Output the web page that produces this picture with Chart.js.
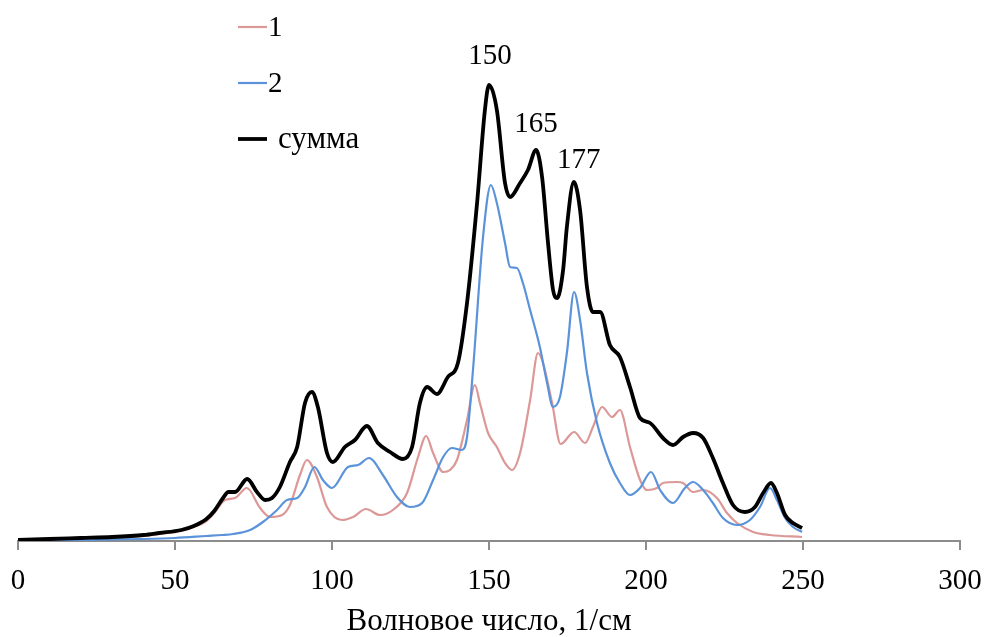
<!DOCTYPE html>
<html lang="ru">
<head>
<meta charset="utf-8">
<title>Спектр</title>
<script src="https://cdn.jsdelivr.net/npm/chart.js@4.4.1/dist/chart.umd.min.js"></script>
<style>
  html, body { margin: 0; padding: 0; background: #fff; }
  canvas { display: block; }
</style>
</head>
<body>
<canvas id="spectrum" width="986" height="637"></canvas>
<script>
// Спектр: две компоненты и их сумма (интенсивность в отн. ед.)

const waveNum1 = [0, 20, 30, 40, 45, 52, 56, 60, 62.5, 65.9, 69.1, 72.9, 77.1, 80.3, 84.1, 86.6, 89.8, 92, 95.2, 98.4,
  103.2, 106.7, 110.8, 115.3, 119.4, 123.9, 127.4, 130, 132.2, 135.4, 137.6, 139.8, 143, 145.5, 147.1, 149.7, 152.5,
  155.1, 157.3, 159.9, 163.1, 165.6, 167.2, 170.1, 172.8, 177.1, 180.6, 183.1, 186, 189.2, 191.7, 194.9, 198.1, 200.3,
  203.5, 205.4, 209.9, 211.8, 215, 218.2, 222.6, 225.8, 229, 234.1, 239.5, 249.7];
const intensity1 = [1, 2, 3, 5, 7, 10, 14, 20, 28, 41, 43, 53, 33, 24, 26, 36, 66, 81, 64, 34,
  21, 24, 32, 26, 31, 48, 84, 105, 88, 69, 71, 81, 121, 156, 138, 108, 94,
  78, 71, 88, 141, 188, 178, 138, 97, 109, 98, 114, 134, 124, 131, 94, 61, 51,
  53, 58, 59, 58, 49, 51, 43, 28, 18, 9, 6, 4];

const waveNum2 = [0, 20, 40, 50, 60, 65, 68.5, 73.9, 78, 82.5, 85.7, 88.9, 91.4, 94.4, 97.1, 100, 105.1, 108.3, 111.8,
  116.2, 120.7, 124.8, 128.7, 132.2, 135.4, 138.2, 141.4, 143, 144.9, 148.1, 150.6, 152.5, 155.1, 156.7, 158.9, 160.8,
  163.1, 166.2, 168.5, 170.4, 172.6, 174.8, 177.1, 179, 181.2, 184.4, 188.5, 191.7, 194.9, 198.1, 201.6, 204.5, 208.6,
  212.4, 215, 218.2, 221.3, 224.5, 229, 233.1, 236.3, 239.5, 241.7, 244.3, 246.8, 249.7];
const intensity2 = [0, 1, 2, 3, 5, 6, 7, 11, 19, 31, 41, 43, 54, 74, 61, 53, 74, 76, 83,
  66, 44, 34, 38, 61, 84, 93, 91, 104, 171, 304, 356, 338, 298, 274, 273, 258,
  231, 194, 158, 134, 144, 188, 249, 221, 168, 118, 78, 58, 46, 53, 69, 51, 38,
  53, 59, 51, 38, 23, 16, 21, 34, 53, 41, 23, 14, 9];

const waveNumSum = [0, 10, 20, 30, 40, 45, 52, 56, 60, 62.5, 65.3, 67, 69.1, 73, 76.1, 78.7, 80.9, 83.4, 86.6, 88.9,
  91.4, 93.6, 95.5, 98.4, 100.3, 104.1, 107.3, 111.1, 114.6, 118.5, 122.6, 125.5, 128, 130.3, 133.4, 136.9, 140.1,
  143, 146.2, 148.7, 150, 152.5, 155.1, 156.7, 159.9, 162.4, 165, 166.9, 168.8, 170.4, 171.7, 173.6, 174.8, 177, 179,
  181.2, 183.1, 185.4, 188.5, 191.7, 194.9, 198.1, 201.3, 205.4, 208.6, 211.8, 215, 218.2, 221.3, 224.5, 227.7, 231.5,
  234.7, 237.3, 239.8, 241.7, 244.3, 246.8, 249.7];
const intensitySum = [1, 2, 3, 4, 6, 8, 11, 15, 22, 30, 43, 49, 49, 62, 49, 41, 43, 54, 79, 94,
  138, 149, 134, 88, 79, 94, 101, 115, 98, 89, 82, 94, 138, 154, 147, 164, 178,
  238, 338, 431, 456, 431, 358, 344, 358, 371, 391, 364, 298, 251, 243, 271, 314, 359, 331,
  254, 229, 229, 196, 184, 154, 123, 118, 103, 96, 104, 108, 103, 83, 58, 36, 29,
  34, 48, 58, 48, 26, 18, 13];

const seriesNames = ['1', '2', 'сумма'];
const peakLabels = [150, 165, 177];
const xTicks = [0, 50, 100, 150, 200, 250, 300];

const FONT = '"Liberation Serif", "Times New Roman", serif';
const AXIS_GREY = '#8c8c8c';

const toPoints = (xs, ys) => xs.map((x, i) => ({ x, y: ys[i] }));

// legend in the upper left: short line + label, one per row
const sideLegend = {
  id: 'sideLegend',
  afterDraw(chart, args, opts) {
    const ctx = chart.ctx;
    ctx.save();
    ctx.textBaseline = 'middle';
    ctx.textAlign = 'left';
    chart.data.datasets.forEach((ds, i) => {
      const y = opts.y + i * opts.rowGap;
      ctx.strokeStyle = ds.borderColor;
      ctx.lineWidth = ds.borderWidth;
      ctx.beginPath();
      ctx.moveTo(opts.x, y);
      ctx.lineTo(opts.x + opts.lineLen, y);
      ctx.stroke();
      ctx.font = `${opts.sizes[i]}px ${FONT}`;
      ctx.fillStyle = '#000';
      ctx.fillText(ds.label, opts.x + opts.lineLen + opts.gaps[i], y + 1);
    });
    ctx.restore();
  }
};

// wave-number labels above the main peaks of the sum curve
const peakMarks = {
  id: 'peakMarks',
  afterDatasetsDraw(chart, args, opts) {
    const { ctx, scales } = chart;
    ctx.save();
    ctx.font = `29px ${FONT}`;
    ctx.fillStyle = '#000';
    ctx.textAlign = 'center';
    ctx.textBaseline = 'alphabetic';
    peakLabels.forEach((p, i) => {
      const idx = waveNumSum.indexOf(p);
      if (idx < 0) return;
      const [dx, dy] = opts.offsets[i];
      const px = scales.x.getPixelForValue(p);
      const py = scales.y.getPixelForValue(intensitySum[idx]);
      ctx.fillText(String(p), px + dx, py - dy);
    });
    ctx.restore();
  }
};

const line = (label, data, color, width, order) => ({
  label, data, order,
  borderColor: color,
  borderWidth: width,
  pointRadius: 0,
  fill: false,
  cubicInterpolationMode: 'monotone'
});

new Chart(document.getElementById('spectrum'), {
  type: 'line',
  data: {
    datasets: [
      line(seriesNames[0], toPoints(waveNum1, intensity1), '#dc9896', 2.2, 2),
      line(seriesNames[1], toPoints(waveNum2, intensity2), '#5b93da', 2.2, 1),
      line(seriesNames[2], toPoints(waveNumSum, intensitySum), '#000000', 3.8, 0)
    ]
  },
  options: {
    responsive: false,
    animation: false,
    events: [],
    layout: { padding: { left: 18, right: 26, top: 21, bottom: 0 } },
    plugins: {
      legend: { display: false },
      tooltip: { enabled: false },
      sideLegend: { x: 238, y: 27, rowGap: 56, lineLen: 29, gaps: [1, 1, 11], sizes: [29, 29, 31] },
      peakMarks: { offsets: [[1, 21], [0, 18], [5, 14]] }
    },
    scales: {
      x: {
        type: 'linear',
        min: 0,
        max: 300,
        afterBuildTicks: s => { s.ticks = xTicks.map(v => ({ value: v })); },
        // fixed axis box; the edge labels may hang into the page margins
        afterFit: s => { s.height = 96; s.paddingLeft = 0; s.paddingRight = 0; },
        ticks: { color: '#000', font: { family: FONT, size: 29 }, padding: 14, maxRotation: 0 },
        grid: { drawOnChartArea: false, drawTicks: true, tickLength: 9, color: AXIS_GREY, lineWidth: 2 },
        border: { display: true, color: AXIS_GREY, width: 2 },
        title: {
          display: true,
          text: 'Волновое число, 1/см',
          color: '#000',
          font: { family: FONT, size: 31, lineHeight: 1 },
          padding: 0
        }
      },
      y: { display: false, min: 0, max: 520 }
    }
  },
  plugins: [sideLegend, peakMarks]
});
</script>
</body>
</html>
